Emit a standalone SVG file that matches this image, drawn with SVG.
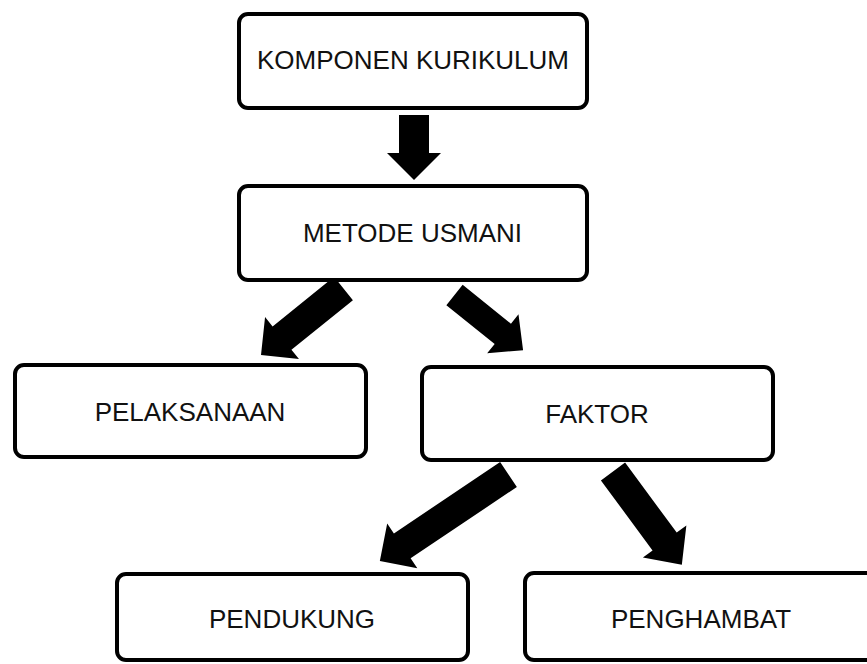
<svg xmlns="http://www.w3.org/2000/svg" width="867" height="664" viewBox="0 0 867 664">
<style>
.box{fill:#fff;stroke:#000;stroke-width:4}
.lbl{font-family:"Liberation Sans",Arial,sans-serif;font-size:26px;fill:#111;text-anchor:middle}
.arr{fill:#000}
</style>
<rect width="867" height="664" fill="#fff"/>
<g id="connectors">
<polygon class="arr" transform="translate(414,115) rotate(90)" points="0,-15 38,-15 38,-27 65,0 38,27 38,15 0,15"/>
<polygon class="arr" transform="translate(343.5,288.5) rotate(141.1)" points="0,-15 79,-15 79,-27 106,0 79,27 79,15 0,15"/>
<polygon class="arr" transform="translate(454.5,295) rotate(38.8)" points="0,-13 62,-13 62,-25 88,0 62,25 62,13 0,13"/>
<polygon class="arr" transform="translate(508.5,474.5) rotate(146.1)" points="0,-15 128,-15 128,-27 155,0 128,27 128,15 0,15"/>
<polygon class="arr" transform="translate(613,471.5) rotate(53.6)" points="0,-15 87,-15 87,-27 116,0 87,27 87,15 0,15"/>
</g>
<g id="komponen"><rect class="box" x="239" y="14" width="348" height="94" rx="9"/><text class="lbl" x="413" y="69">KOMPONEN KURIKULUM</text></g>
<g id="metode"><rect class="box" x="239" y="186" width="348" height="94" rx="9"/><text class="lbl" x="412.5" y="242">METODE USMANI</text></g>
<g id="pelaksanaan"><rect class="box" x="15" y="365" width="351" height="92" rx="9"/><text class="lbl" x="190" y="421">PELAKSANAAN</text></g>
<g id="faktor"><rect class="box" x="422" y="367" width="351" height="93" rx="9"/><text class="lbl" x="597" y="423">FAKTOR</text></g>
<g id="pendukung"><rect class="box" x="117" y="574" width="351" height="86" rx="9"/><text class="lbl" x="292" y="628">PENDUKUNG</text></g>
<g id="penghambat"><rect class="box" x="525" y="573" width="360" height="87" rx="9"/><text class="lbl" x="701" y="628">PENGHAMBAT</text></g>
</svg>
